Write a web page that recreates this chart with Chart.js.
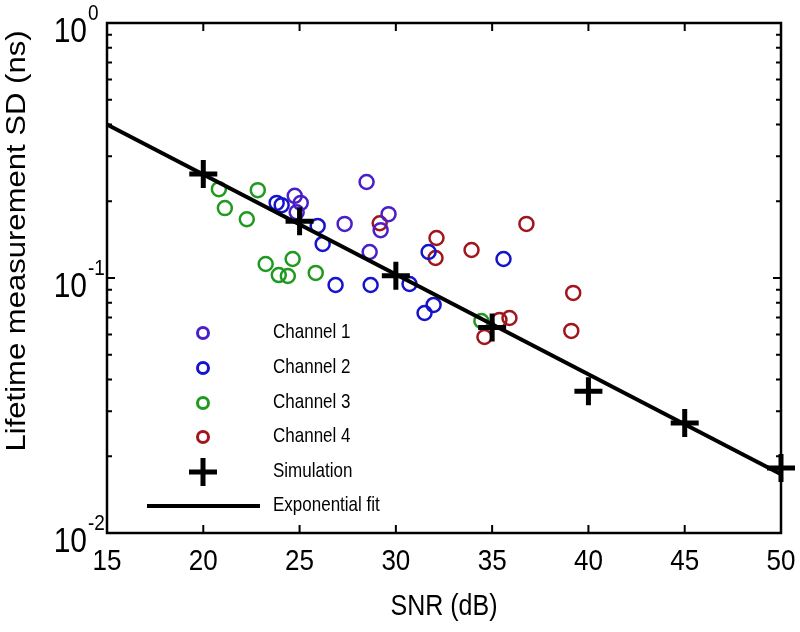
<!DOCTYPE html>
<html>
<head>
<meta charset="utf-8">
<script src="https://cdn.jsdelivr.net/npm/chart.js@4.4.1/dist/chart.umd.min.js"></script>
<style>
  html, body { margin: 0; padding: 0; background: #fff; }
  #wrap { width: 800px; height: 632px; }
</style>
</head>
<body>
<div id="wrap"><canvas id="sd-chart" width="800" height="632"></canvas></div>
<script>
// data (SNR in dB, lifetime SD in ns)
const ch1X = [24.75, 25.06, 24.85, 27.34, 28.48, 28.64, 29.62, 29.21];
const ch1Y = [0.210, 0.197, 0.181, 0.163, 0.238, 0.1265, 0.178, 0.154];

const ch2X = [23.81, 24.07, 25.94, 26.20, 26.87, 28.69, 30.71, 31.70, 31.96, 31.49, 35.59];
const ch2Y = [0.197, 0.193, 0.160, 0.136, 0.0939, 0.0939, 0.0947, 0.1265, 0.0784, 0.0729, 0.1187];

const ch3X = [20.81, 22.83, 21.12, 22.26, 23.24, 24.64, 23.92, 24.39, 25.84, 34.44];
const ch3Y = [0.223, 0.221, 0.188, 0.170, 0.1135, 0.1187, 0.1027, 0.1018, 0.1047, 0.0678];

const ch4X = [29.16, 32.11, 32.06, 33.93, 36.78, 35.90, 35.38, 34.60, 39.21, 39.11];
const ch4Y = [0.164, 0.1435, 0.1198, 0.1288, 0.163, 0.0697, 0.0685, 0.0587, 0.0874, 0.0620];

const simX = [20, 25, 30, 35, 40, 45, 50];
const simY = [0.256, 0.167, 0.102, 0.064, 0.036, 0.027, 0.018];

const fitX = [15, 50];
const fitY = [0.40, 0.017];

const snrTicks = [15, 20, 25, 30, 35, 40, 45, 50];
const sdDecades = [0.01, 0.1, 1];
const sdExponents = ['-2', '-1', '0'];

const legendNames = ['Channel 1', 'Channel 2', 'Channel 3', 'Channel 4', 'Simulation', 'Exponential fit'];
const colors = ['#4a1ec8', '#1414cc', '#1f9a1f', '#a0161c', '#000000', '#000000'];

const FONT = '"Liberation Sans", Arial, sans-serif';
const SY = 1.15; // figure text looks vertically stretched

function pts(xs, ys) {
    return xs.map((x, i) => ({ x: x, y: ys[i] }));
}

function circleSet(i, xs, ys) {
    return {
        label: legendNames[i],
        data: pts(xs, ys),
        pointStyle: 'circle',
        pointRadius: 7,
        borderWidth: 2.5,
        borderColor: colors[i],
        backgroundColor: 'rgba(0,0,0,0)',
        showLine: false,
        order: 3,
        clip: false
    };
}

function txt(ctx, s, x, y, size, align, rotate) {
    ctx.save();
    ctx.translate(x, y);
    if (rotate) {
        ctx.rotate(-Math.PI / 2);
        ctx.scale(SY, 1);
    } else {
        ctx.scale(1, SY);
    }
    ctx.font = size + 'px ' + FONT;
    ctx.fillStyle = '#000';
    ctx.textAlign = align;
    ctx.textBaseline = 'middle';
    ctx.fillText(s, 0, 0);
    ctx.restore();
}

// matlab-ish box, inward ticks, custom labels and legend
const boxPlugin = {
    id: 'matlabBox',
    beforeDatasetsDraw(chart) {
        const ctx = chart.ctx;
        const a = chart.chartArea;
        const xs = chart.scales.x, ys = chart.scales.y;
        ctx.save();
        ctx.strokeStyle = '#000';
        ctx.lineWidth = 2.5;
        ctx.strokeRect(a.left, a.top, a.right - a.left, a.bottom - a.top);
        ctx.lineWidth = 2;
        ctx.beginPath();
        snrTicks.forEach(v => {
            const px = xs.getPixelForValue(v);
            ctx.moveTo(px, a.bottom); ctx.lineTo(px, a.bottom - 8);
            ctx.moveTo(px, a.top); ctx.lineTo(px, a.top + 8);
        });
        sdDecades.forEach(d => {
            for (let k = 1; k <= 9; k++) {
                const v = d * k;
                if (v > 1.0001) break;
                const py = ys.getPixelForValue(v);
                const len = k === 1 ? 8 : 5;
                ctx.moveTo(a.left, py); ctx.lineTo(a.left + len, py);
                ctx.moveTo(a.right, py); ctx.lineTo(a.right - len, py);
            }
        });
        ctx.stroke();
        ctx.restore();
    },
    afterDraw(chart) {
        const ctx = chart.ctx;
        const a = chart.chartArea;
        const xs = chart.scales.x, ys = chart.scales.y;

        snrTicks.forEach(v => {
            txt(ctx, String(v), xs.getPixelForValue(v), a.bottom + 29, 26, 'center');
        });
        sdDecades.forEach((d, i) => {
            const py = ys.getPixelForValue(d);
            txt(ctx, '10', 87, py + 9, 30, 'right');
            txt(ctx, sdExponents[i], 88, py - 9, 19, 'left');
        });
        txt(ctx, 'SNR (dB)', (a.left + a.right) / 2, 607, 25, 'center');
        txt(ctx, 'Lifetime measurement SD (ns)', 18, 241, 27, 'center', true);

        // legend
        const rowY = [333, 368, 403, 437, 472, 506];
        ctx.save();
        legendNames.forEach((name, i) => {
            const y = rowY[i];
            ctx.strokeStyle = colors[i];
            if (i < 4) {
                ctx.lineWidth = 3;
                ctx.beginPath();
                ctx.arc(203, y, 5.5, 0, Math.PI * 2);
                ctx.stroke();
            } else if (i === 4) {
                ctx.lineWidth = 5;
                ctx.beginPath();
                ctx.moveTo(189, y); ctx.lineTo(217, y);
                ctx.moveTo(203, y - 14); ctx.lineTo(203, y + 14);
                ctx.stroke();
            } else {
                ctx.lineWidth = 4;
                ctx.beginPath();
                ctx.moveTo(147, y); ctx.lineTo(260, y);
                ctx.stroke();
            }
            txt(ctx, name, 273, y, 17, 'left');
        });
        ctx.restore();
    }
};

const chart = new Chart(document.getElementById('sd-chart').getContext('2d'), {
    type: 'scatter',
    data: {
        datasets: [
            {
                label: legendNames[4],
                data: pts(simX, simY),
                pointStyle: 'cross',
                pointRadius: 14,
                borderWidth: 5,
                borderColor: '#000',
                showLine: false,
                order: 0,
                clip: false
            },
            {
                type: 'line',
                label: legendNames[5],
                data: pts(fitX, fitY),
                borderColor: '#000',
                borderWidth: 4,
                pointRadius: 0,
                fill: false,
                order: 1
            },
            circleSet(0, ch1X, ch1Y),
            circleSet(1, ch2X, ch2Y),
            circleSet(2, ch3X, ch3Y),
            circleSet(3, ch4X, ch4Y)
        ]
    },
    options: {
        responsive: false,
        animation: false,
        events: [],
        layout: { padding: { left: 107, right: 18, top: 23, bottom: 99 } },
        plugins: {
            legend: { display: false },
            tooltip: { enabled: false }
        },
        scales: {
            x: {
                type: 'linear',
                display: false,
                min: 15,
                max: 50
            },
            y: {
                type: 'logarithmic',
                display: false,
                min: 0.01,
                max: 1
            }
        }
    },
    plugins: [boxPlugin]
});
</script>
</body>
</html>
